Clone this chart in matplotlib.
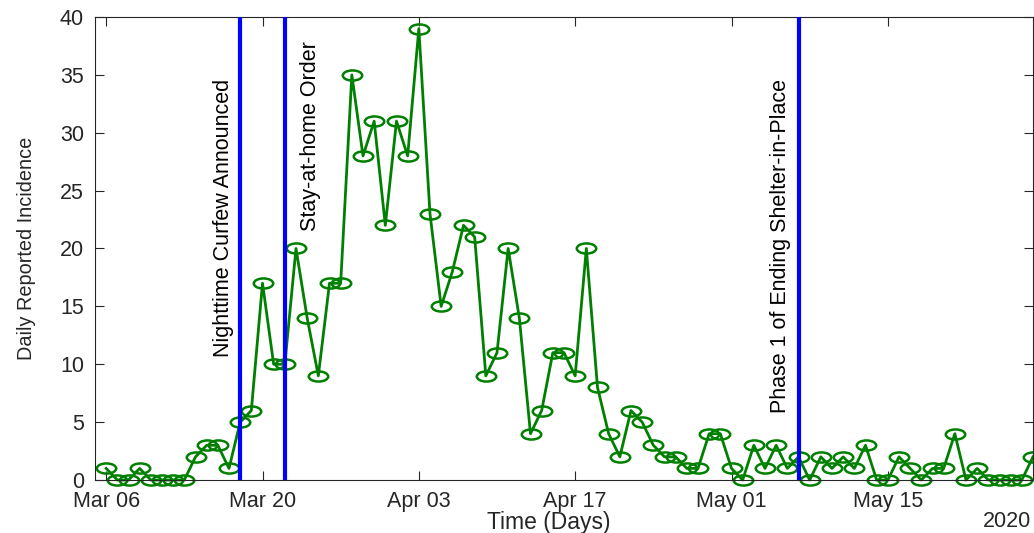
import numpy as np
import pandas as pd
import matplotlib
matplotlib.use('Agg')
import matplotlib.pyplot as plt
import matplotlib.dates as mdates
from matplotlib.path import Path

# Daily reported cases, one value per day from Mar 06 to May 28
start_date = '2020-03-06'
end_date = '2020-05-28'
daily_cases = [1, 0, 0, 1, 0, 0, 0, 0, 2, 3, 3, 1, 5, 6, 17, 10, 10, 20, 14, 9,
               17, 17, 35, 28, 31, 22, 31, 28, 39, 23, 15, 18, 22, 21, 9, 11, 20, 14, 4, 6,
               11, 11, 9, 20, 8, 4, 2, 6, 5, 3, 2, 2, 1, 1, 4, 4, 1, 0, 3, 1,
               3, 1, 2, 0, 2, 1, 2, 1, 3, 0, 0, 2, 1, 0, 1, 1, 4, 0, 1, 0,
               0, 0, 0, 2]

# Policy events drawn as vertical lines
event_dates = ['2020-03-18', '2020-03-22', '2020-05-07']
event_labels = ['Nighttime Curfew Announced', 'Stay-at-home Order',
                'Phase 1 of Ending Shelter-in-Place']

tick_dates = ['2020-03-06', '2020-03-20', '2020-04-03', '2020-04-17', '2020-05-01', '2020-05-15']
y_ticks = [0, 5, 10, 15, 20, 25, 30, 35, 40]


def main():
    days = pd.date_range(start_date, end_date, freq='D')

    tick_font = ['Liberation Sans', 'DejaVu Sans']
    axis_color = '#262626'

    fig = plt.figure(figsize=(10.34, 5.33), dpi=100)
    ax = fig.add_axes([95 / 1034, 53 / 533, 938 / 1034, 463 / 533])

    # flattened circle, the original picture is stretched sideways
    circle = Path.unit_circle()
    ellipse = Path(circle.vertices * np.array([1.0, 0.52]), circle.codes)

    ax.plot(days, daily_cases, color='#008000', linewidth=2.0,
            marker=ellipse, markersize=14, markerfacecolor='none',
            markeredgecolor='#008000', markeredgewidth=1.8, clip_on=False, zorder=2)

    # text offsets (days, value) relative to each event line
    text_shift = [(-1.5, 10.65), (2.3, 21.5), (-1.6, 5.8)]
    for d, label, (dx, y0) in zip(event_dates, event_labels, text_shift):
        xd = mdates.date2num(pd.Timestamp(d))
        ax.axvline(xd, color='#0000ff', linewidth=3.0, zorder=3)
        ax.text(xd + dx, y0, label, rotation=90, ha='center', va='bottom',
                fontsize=15.5, family=tick_font, color='black')

    ax.set_xlim(mdates.date2num(pd.Timestamp(start_date)) - 1,
                mdates.date2num(pd.Timestamp(end_date)))
    ax.set_ylim(0, 40)

    ax.set_xticks([mdates.date2num(pd.Timestamp(t)) for t in tick_dates])
    ax.xaxis.set_major_formatter(mdates.DateFormatter('%b %d'))
    ax.set_yticks(y_ticks)

    ax.tick_params(direction='in', length=6.5, width=0.8, color=axis_color,
                   top=True, right=True, labelsize=15.5, labelcolor=axis_color, pad=8)
    for lab in ax.get_xticklabels() + ax.get_yticklabels():
        lab.set_family(tick_font)
    for sp in ax.spines.values():
        sp.set_color(axis_color)
        sp.set_linewidth(0.8)

    ax.set_xlabel('Time (Days)', fontsize=16.5, family=tick_font, color=axis_color)
    ax.xaxis.set_label_coords(0.484, -0.068)
    ax.set_ylabel('Daily Reported Incidence', fontsize=14.3, family=tick_font, color=axis_color)
    ax.yaxis.set_label_coords(-0.063, 0.5)
    ax.text(0.998, -0.068, '2020', transform=ax.transAxes, ha='right', va='top',
            fontsize=15.5, family=tick_font, color=axis_color)

    fig.savefig('out.png', dpi=100)


if __name__ == "__main__":
    main()
